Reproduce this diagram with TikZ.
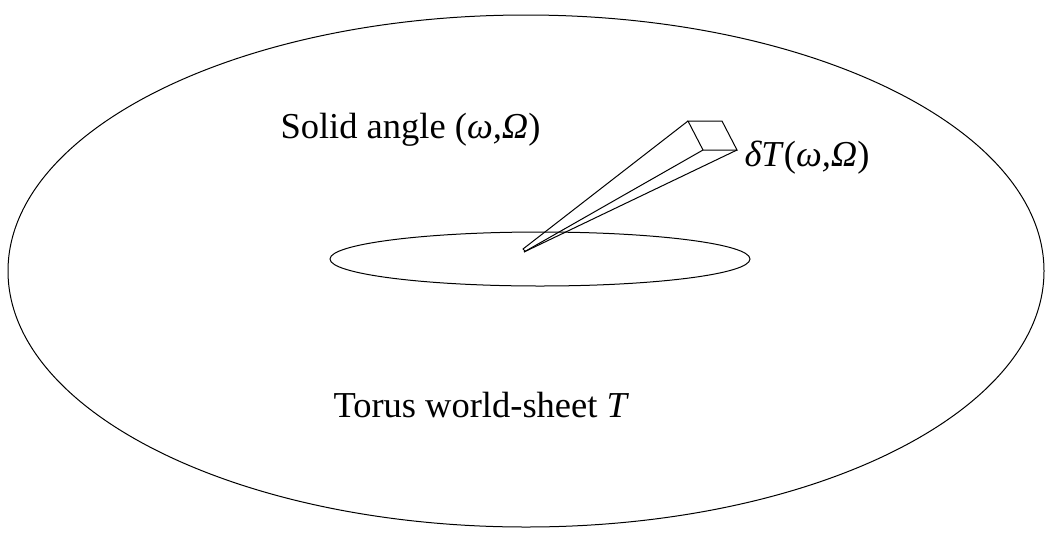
\documentclass[tikz,border=0pt]{standalone}
\usepackage{fontspec}
\setmainfont{Liberation Serif}
\begin{document}
\begin{tikzpicture}[x=1pt,y=-1pt,line width=1pt,
  lbl/.style={anchor=base west,inner sep=0pt,font=\fontsize{36.5}{40}\selectfont}]
\useasboundingbox (0,0) rectangle (1047,547);
\draw (526,271) ellipse [x radius=518, y radius=256];
\draw (540,259) ellipse [x radius=210, y radius=27];
\coordinate (tl) at (688,121);
\coordinate (tr) at (722,121);
\coordinate (br) at (737,150);
\coordinate (bl) at (703,150);
\coordinate (a1) at (523,249);
\coordinate (a2) at (524,252);
\coordinate (a3) at (525,251);
\draw[line join=miter] (tl) -- (tr) -- (br) -- (bl) -- cycle;
\draw (tl) -- (a1) -- (a3);
\draw (bl) -- (a2);
\draw (br) -- (a2);
\node[lbl] (sa) at (280,138) {Solid angle (\textit{ω,Ω})};
\node[lbl] (dt) at (744,166) {\textit{δT}(\textit{ω,Ω})};
\node[lbl] (ts) at (333,417) {Torus world-sheet \textit{T}};
\end{tikzpicture}
\end{document}
